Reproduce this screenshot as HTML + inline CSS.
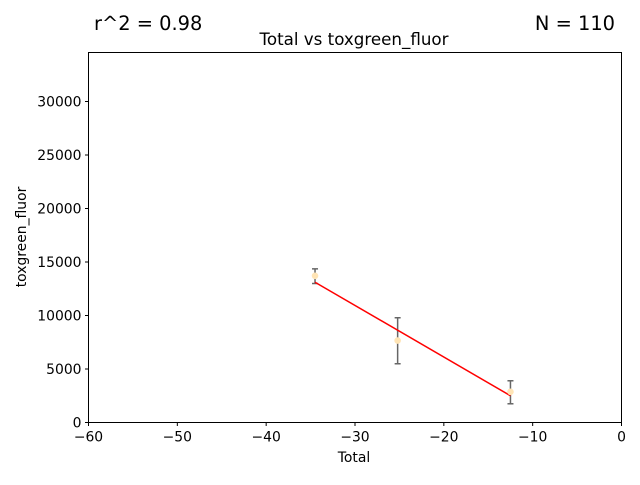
<!DOCTYPE html>
<html><head><meta charset="utf-8"><style>
body{margin:0;background:#fff;width:640px;height:480px;overflow:hidden}
text{font-family:"DejaVu Sans","Liberation Sans",sans-serif}
</style></head><body>
<svg id="chart" width="640" height="480">
<rect width="640" height="480" fill="#fff"/>
<g id="plot"></g>
</svg>
<script>
const xVals=[-34.5,-25.2,-12.5];
const yVals=[13710,7660,2870];
const errLow=[12990,5490,1750];
const errHigh=[14360,9790,3900];
const fitX=[-34.5,-12.5];
const fitY=[13110,2500];
const xTicks=[-60,-50,-40,-30,-20,-10,0];
const yTicks=[0,5000,10000,15000,20000,25000,30000];
const X0=88.5,X1=621.5,Y0=422.5,Y1=52.5;
const xMin=-60,xMax=0,yMin=0,yMax=34580;
const sx=v=>X0+(v-xMin)/(xMax-xMin)*(X1-X0);
const sy=v=>Y0-(v-yMin)/(yMax-yMin)*(Y0-Y1);
const NS="http://www.w3.org/2000/svg";
const g=document.getElementById('plot');
function mk(t,a,txt){const e=document.createElementNS(NS,t);for(const k in a)e.setAttribute(k,a[k]);if(txt!==undefined)e.textContent=txt;g.appendChild(e);return e;}
let e;
e=mk('rect',{x:X0,y:Y1,width:X1-X0,height:Y0-Y1,fill:'none',stroke:'#000','stroke-width':1});


xTicks.forEach(t=>{const x=sx(t);
 e=mk('line',{x1:x,x2:x,y1:Y0,y2:Y0+3.5,stroke:'#000'});
 
 
 e=mk('text',{x:x,y:Y0+19,'font-size':13.9,'text-anchor':'middle'},String(t).replace('-','\u2212'));
 
 
});
yTicks.forEach(t=>{const y=sy(t);
 e=mk('line',{x1:X0-3.5,x2:X0,y1:y,y2:y,stroke:'#000'});
 
 
 e=mk('text',{x:X0-7,y:y+5,'font-size':13.9,'text-anchor':'end'},String(t));
 
 
});
xVals.forEach((v,i)=>{const x=sx(v);
 e=mk('line',{x1:x,x2:x,y1:sy(errLow[i]),y2:sy(errHigh[i]),stroke:'#666','stroke-width':1.5});
 
 
 [errLow[i],errHigh[i]].forEach(c=>{
  e=mk('line',{x1:x-3,x2:x+3,y1:sy(c),y2:sy(c),stroke:'#666','stroke-width':1.5});
  
  
 });
});
e=mk('line',{x1:sx(fitX[0]),y1:sy(fitY[0]),x2:sx(fitX[1]),y2:sy(fitY[1]),stroke:'#ff0000','stroke-width':1.5});


xVals.forEach((v,i)=>{
 e=mk('circle',{cx:sx(v),cy:sy(yVals[i]),r:3.3,fill:'#ffe4b5'});
 
 
});
e=mk('text',{x:354,y:45,'font-size':16.7,'text-anchor':'middle'},'Total vs toxgreen_fluor');


e=mk('text',{x:94,y:30,'font-size':19.4},'r^2 = 0.98');


e=mk('text',{x:615,y:30,'font-size':19.4,'text-anchor':'end'},'N = 110');


e=mk('text',{x:354,y:462,'font-size':13.9,'text-anchor':'middle'},'Total');


e=mk('text',{x:0,y:0,'font-size':13.9,'text-anchor':'middle',transform:'translate(26,237) rotate(-90)'},'toxgreen_fluor');


</script>
</body></html>
